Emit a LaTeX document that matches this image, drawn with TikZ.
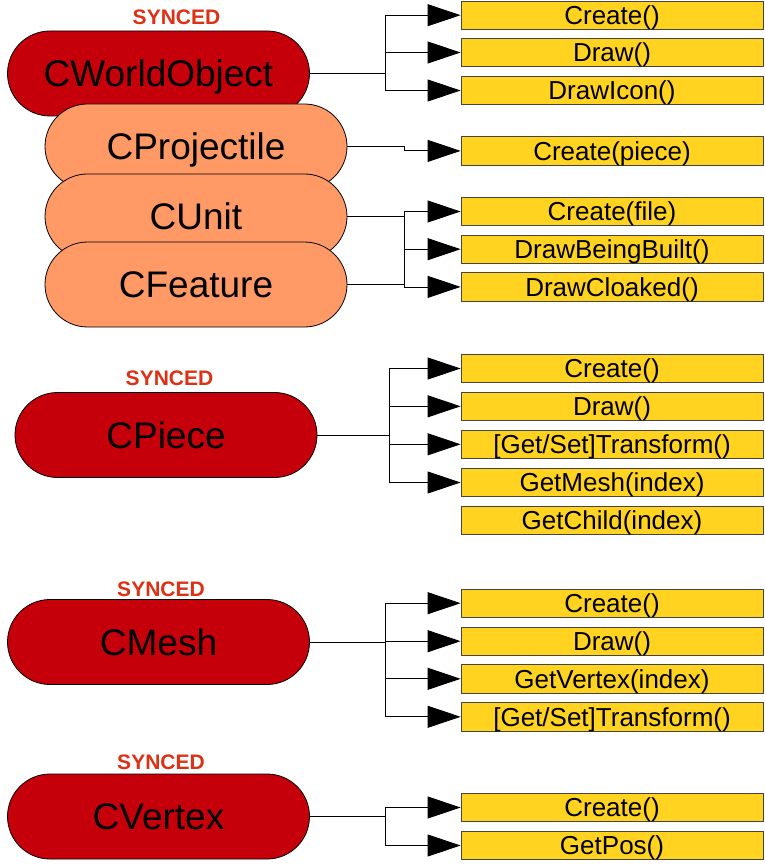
\documentclass[tikz,border=0pt]{standalone}
\usepackage{fontspec}
\setmainfont{Liberation Sans}
\usetikzlibrary{arrows.meta}
\definecolor{basered}{HTML}{C5000B}
\definecolor{subsalmon}{HTML}{FF9966}
\definecolor{fnyellow}{HTML}{FFD320}
\definecolor{syncred}{HTML}{DE3014}
\definecolor{boxedge}{HTML}{444444}

\begin{document}
\begin{tikzpicture}[x=1pt,y=-1pt,
    cls/.style={draw=black,line width=0.8pt,rounded corners=42.5pt,minimum width=302pt,minimum height=85pt,inner sep=0pt,text height=26.5pt,text depth=0pt,font=\fontsize{37}{37}\selectfont},
    base/.style={cls,fill=basered},
    sub/.style={cls,fill=subsalmon},
    fn/.style={draw=boxedge,line width=0.8pt,fill=fnyellow,minimum width=302pt,minimum height=28.3pt,inner sep=0pt,text height=18.6pt,text depth=0pt,font=\fontsize{26}{26}\selectfont},
    tag/.style={text=syncred,inner sep=0pt,text height=15pt,text depth=0pt,font=\bfseries\fontsize{21}{21}\selectfont},
    link/.style={line width=0.8pt},
    call/.style={link,-{Triangle[length=33pt,width=22pt]}}]
    \useasboundingbox (0,0) rectangle (764,866);

    % world object and the classes stacked on it
    \node[base] (wo) at (158.5,73.5) {CWorldObject};
    \node[sub] (proj) at (196,146.5) {CProjectile};
    \node[sub] (unit) at (196,216.5) {CUnit};
    \node[sub] (feat) at (196,284.5) {CFeature};
    \node[tag] (wotag) at (176.5,17) {SYNCED};

    \node[fn] (wo1) at (612,15.2) {Create()};
    \node[fn] (wo2) at (612,52.5) {Draw()};
    \node[fn] (wo3) at (612,90.5) {DrawIcon()};
    \node[fn] (pr1) at (612,150.9) {Create(piece)};
    \node[fn] (un1) at (612,211.5) {Create(file)};
    \node[fn] (un2) at (612,249.2) {DrawBeingBuilt()};
    \node[fn] (un3) at (612,286.9) {DrawCloaked()};

    \coordinate (wot) at (385,73.5);
    \draw[link] (wo.east) -- (wot);
    \draw[call] (wot) |- (wo1.west);
    \draw[call] (wot) |- (wo2.west);
    \draw[call] (wot) |- (wo3.west);

    \coordinate (prt) at (404,146.5);
    \draw[call] (proj.east) -- (prt) |- (pr1.west);

    \coordinate (unt) at (404,216.5);
    \coordinate (fet) at (404,284.5);
    \draw[link] (unit.east) -- (unt);
    \draw[link] (feat.east) -- (fet);
    \draw[call] (unt) |- (un1.west);
    \draw[call] (unt) |- (un2.west);
    \draw[call] (unt) |- (un3.west);

    % piece
    \node[base] (piece) at (166,435) {CPiece};
    \node[tag] (pitag) at (169.5,377.5) {SYNCED};
    \node[fn] (pi1) at (612,368.5) {Create()};
    \node[fn] (pi2) at (612,406.3) {Draw()};
    \node[fn] (pi3) at (612,444.3) {[Get/Set]Transform()};
    \node[fn] (pi4) at (612,482.5) {GetMesh(index)};
    \node[fn] (pi5) at (612,520.3) {GetChild(index)};

    \coordinate (pit) at (389,435);
    \draw[link] (piece.east) -- (pit);
    \draw[call] (pit) |- (pi1.west);
    \draw[call] (pit) |- (pi2.west);
    \draw[call] (pit) |- (pi3.west);
    \draw[call] (pit) |- (pi4.west);

    % mesh
    \node[base] (mesh) at (158.5,642) {CMesh};
    \node[tag] (metag) at (161,588.5) {SYNCED};
    \node[fn] (me1) at (612,603.2) {Create()};
    \node[fn] (me2) at (612,641.2) {Draw()};
    \node[fn] (me3) at (612,678.8) {GetVertex(index)};
    \node[fn] (me4) at (612,716.8) {[Get/Set]Transform()};

    \coordinate (met) at (385.5,642);
    \draw[link] (mesh.east) -- (met);
    \draw[call] (met) |- (me1.west);
    \draw[call] (met) |- (me2.west);
    \draw[call] (met) |- (me3.west);
    \draw[call] (met) |- (me4.west);

    % vertex
    \node[base] (vert) at (158.5,816.5) {CVertex};
    \node[tag] (vetag) at (161,762) {SYNCED};
    \node[fn] (ve1) at (612,807.5) {Create()};
    \node[fn] (ve2) at (612,845.5) {GetPos()};

    \coordinate (vet) at (385,816.5);
    \draw[link] (vert.east) -- (vet);
    \draw[call] (vet) |- (ve1.west);
    \draw[call] (vet) |- (ve2.west);
\end{tikzpicture}
\end{document}
